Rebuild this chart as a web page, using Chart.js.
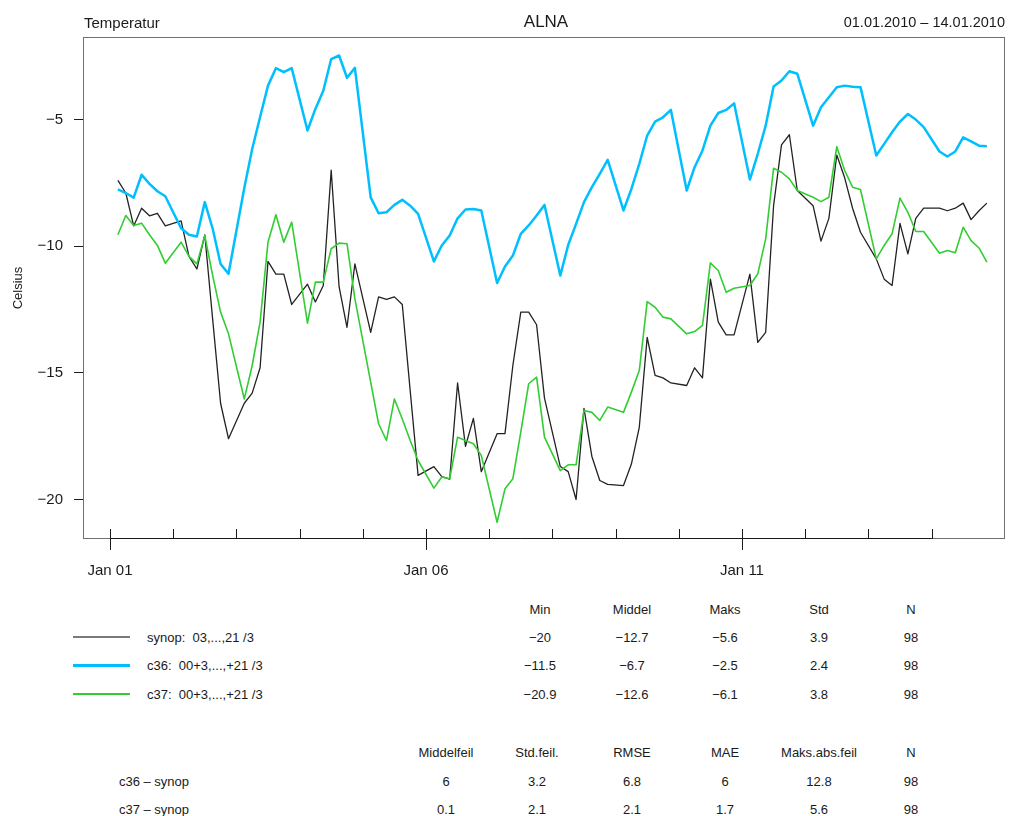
<!DOCTYPE html>
<html>
<head>
<meta charset="utf-8">
<title>ALNA – Temperatur</title>
<script src="https://cdn.jsdelivr.net/npm/chart.js@4.4.1/dist/chart.umd.min.js"></script>
<style>
  html, body { margin: 0; padding: 0; background: #ffffff; }
  #wrap { position: relative; width: 1024px; height: 816px; overflow: hidden;
          font-family: "Liberation Sans", Arial, sans-serif; color: #1a1a1a; }
  #chart { position: absolute; left: 0; top: 0; }
  .lbl { position: absolute; white-space: pre; line-height: 1; }
  .key { position: absolute; }
</style>
</head>
<body>
<div id="wrap">
  <canvas id="chart" width="1024" height="600"></canvas>
</div>
<script>
// Observation hours each day (UTC) and the period covered
const hoursOfDay = [3, 6, 9, 12, 15, 18, 21];
const dayLabels = ['Jan 01', 'Jan 02', 'Jan 03', 'Jan 04', 'Jan 05', 'Jan 06', 'Jan 07',
                   'Jan 08', 'Jan 09', 'Jan 10', 'Jan 11', 'Jan 12', 'Jan 13', 'Jan 14'];
const labelledDays = ['Jan 01', 'Jan 06', 'Jan 11'];
const yTickValues = [-20, -15, -10, -5];

// Observed temperature (synop), °C
const synop = [
  -7.4, -7.9, -9.2, -8.5, -8.8, -8.7, -9.2,
  -9.0, -10.4, -10.9, -9.55, -12.9, -16.2, -17.6,
  -16.2, -15.8, -14.8, -10.6, -11.1, -11.1, -12.3,
  -11.5, -12.2, -11.55, -7.0, -11.6, -13.2, -10.7,
  -13.4, -12.0, -12.1, -12.0, -12.3, -15.7, -19.05,
  -18.7, -19.1, -19.2, -15.4, -17.9, -16.8, -18.9,
  -17.4, -17.4, -14.7, -12.6, -12.6, -13.1, -16.0,
  -18.7, -18.9, -20.0, -16.4, -18.3, -19.25, -19.4,
  -19.45, -18.6, -17.15, -13.6, -15.1, -15.2, -15.4,
  -15.5, -14.8, -15.2, -11.3, -13.0, -13.5, -13.5,
  -11.1, -13.8, -13.4, -8.4, -6.0, -5.6, -7.8,
  -8.4, -9.8, -8.9, -6.4, -7.3, -8.5, -9.45,
  -10.5, -11.3, -11.55, -9.1, -10.3, -8.9, -8.5,
  -8.5, -8.6, -8.5, -8.3, -8.95, -8.6, -8.3
];

// Model c36, 00 UTC run, lead +3 ... +21 h
const c36 = [
  -7.76, -7.9, -8.08, -7.18, -7.54, -7.83, -8.03,
  -9.29, -9.55, -9.62, -8.26, -9.31, -10.7, -11.09,
  -7.7, -6.16, -4.9, -3.66, -2.97, -3.13, -2.97,
  -5.43, -4.58, -3.86, -2.61, -2.47, -3.35, -2.96,
  -8.07, -8.7, -8.66, -8.37, -8.17, -8.4, -8.72,
  -10.6, -9.97, -9.58, -8.9, -8.55, -8.53, -8.59,
  -11.45, -10.8, -10.37, -9.51, -9.18, -8.79, -8.37,
  -11.16, -9.95, -9.12, -8.26, -7.67, -7.14, -6.59,
  -8.59, -7.74, -6.75, -5.63, -5.08, -4.91, -4.62,
  -7.8, -6.88, -6.22, -5.24, -4.74, -4.62, -4.36,
  -7.37, -6.35, -5.24, -3.69, -3.46, -3.09, -3.19,
  -5.24, -4.51, -4.12, -3.72, -3.66, -3.7, -3.72,
  -6.42, -5.96, -5.5, -5.08, -4.78, -5.0, -5.3,
  -6.26, -6.46, -6.26, -5.7, -5.86, -6.03, -6.05
];

// Model c37, 00 UTC run, lead +3 ... +21 h
const c37 = [
  -9.55, -8.79, -9.18, -9.09, -9.55, -9.97, -10.67,
  -9.84, -10.4, -10.7, -9.58, -11.16, -12.6, -13.46,
  -16.03, -14.71, -13.0, -9.84, -8.76, -9.84, -9.05,
  -13.04, -11.42, -11.42, -10.1, -9.88, -9.9, -12.08,
  -15.37, -17.01, -17.67, -16.03, -16.82, -17.67, -18.46,
  -19.55, -19.11, -19.18, -17.54, -17.67, -17.8, -18.26,
  -20.9, -19.58, -19.18, -17.34, -15.43, -15.17, -17.54,
  -18.86, -18.63, -18.63, -16.49, -16.56, -16.88, -16.35,
  -16.56, -15.76, -14.91, -12.19, -12.41, -12.8, -12.87,
  -13.46, -13.37, -13.13, -10.66, -10.96, -11.82, -11.66,
  -11.55, -11.09, -9.71, -6.92, -7.08, -7.34, -7.8,
  -8.07, -8.24, -8.07, -6.07, -7.01, -7.67, -7.76,
  -10.5, -9.97, -9.51, -8.1, -8.66, -9.42, -9.42,
  -10.28, -10.17, -10.26, -9.25, -9.78, -10.07, -10.63
];

// Summary statistics
const seriesNames = ['synop:  03,...,21 /3', 'c36:  00+3,...,+21 /3', 'c37:  00+3,...,+21 /3'];
const statHeader = ['Min', 'Middel', 'Maks', 'Std', 'N'];
const statRows = [
  ['\u221220', '\u221212.7', '\u22125.6', '3.9', '98'],
  ['\u221211.5', '\u22126.7', '\u22122.5', '2.4', '98'],
  ['\u221220.9', '\u221212.6', '\u22126.1', '3.8', '98']
];
const errHeader = ['Middelfeil', 'Std.feil.', 'RMSE', 'MAE', 'Maks.abs.feil', 'N'];
const errNames = ['c36 \u2013 synop', 'c37 \u2013 synop'];
const errRows = [
  ['6', '3.2', '6.8', '6', '12.8', '98'],
  ['0.1', '2.1', '2.1', '1.7', '5.6', '98']
];

// Hours since 01.01.2010 00 UTC for every observation time
const obsTimes = [];
dayLabels.forEach((_, d) => hoursOfDay.forEach(h => obsTimes.push(d * 24 + h)));
const points = vals => vals.map((v, i) => ({ x: obsTimes[i], y: v }));

const FONT = '"Liberation Sans", Arial, sans-serif';
const INK = '#1a1a1a';

// Box around the plot and the R-style day ticks on the time axis
const framePlugin = {
  id: 'frame',
  afterDraw(chart) {
    const { ctx, chartArea: a, scales: { x } } = chart;
    ctx.save();
    ctx.lineWidth = 1;
    ctx.strokeStyle = '#707070';
    ctx.strokeRect(a.left + 0.5, a.top + 0.5, a.right - a.left - 1, a.bottom - a.top - 1);
    ctx.strokeStyle = INK;
    const y0 = a.bottom - 0.5;
    ctx.beginPath();
    ctx.moveTo(x.getPixelForValue(0), y0);
    ctx.lineTo(x.getPixelForValue((dayLabels.length - 1) * 24), y0);
    dayLabels.forEach((lab, d) => {
      const px = Math.round(x.getPixelForValue(d * 24)) + 0.5;
      ctx.moveTo(px, a.bottom - 10);
      ctx.lineTo(px, labelledDays.includes(lab) ? a.bottom + 11 : a.bottom);
    });
    ctx.stroke();
    ctx.restore();
  }
};

new Chart(document.getElementById('chart'), {
  type: 'line',
  data: {
    datasets: [
      { label: 'synop', data: points(synop), borderColor: '#222222', borderWidth: 1.3, order: 3 },
      { label: 'c36', data: points(c36), borderColor: '#00BFFF', borderWidth: 2.5, order: 2 },
      { label: 'c37', data: points(c37), borderColor: '#32CD32', borderWidth: 1.6, order: 1 }
    ]
  },
  options: {
    responsive: false,
    animation: false,
    devicePixelRatio: 1,
    elements: { point: { radius: 0 }, line: { tension: 0, borderJoinStyle: 'round' } },
    layout: { padding: { left: 0, top: 37, right: 19, bottom: 0 } },
    plugins: { legend: { display: false }, tooltip: { enabled: false } },
    scales: {
      x: {
        type: 'linear',
        min: -10.25,
        max: 339.88,
        afterBuildTicks: s => { s.ticks = dayLabels.map((_, d) => ({ value: d * 24 })); },
        afterFit: s => { s.height = 61; },
        grid: { display: false, drawTicks: false },
        border: { display: false },
        ticks: {
          autoSkip: false, maxRotation: 0, padding: 23,
          color: INK, font: { family: FONT, size: 15 },
          callback: v => {
            const lab = dayLabels[Math.round(v / 24)];
            return labelledDays.includes(lab) ? lab : '';
          }
        }
      },
      y: {
        min: -21.56,
        max: -1.74,
        afterBuildTicks: s => { s.ticks = yTickValues.map(v => ({ value: v })); },
        afterFit: s => { s.width = 83; },
        grid: { drawOnChartArea: false, drawTicks: true, tickLength: 9, color: INK, lineWidth: 1 },
        border: { display: false },
        ticks: {
          padding: 11, color: INK, font: { family: FONT, size: 15 },
          callback: v => (v < 0 ? '\u2212' + Math.abs(v) : String(v))
        },
        title: {
          display: true, text: 'Celsius', color: INK,
          font: { family: FONT, size: 13 }, padding: { top: 11, bottom: 0 }
        }
      }
    }
  },
  plugins: [framePlugin]
});

// Header line and the statistics tables under the plot
const wrap = document.getElementById('wrap');
function text(str, x, y, size, align) {
  const el = document.createElement('div');
  el.className = 'lbl';
  el.textContent = str;
  el.style.fontSize = size + 'px';
  el.style.top = y + 'px';
  el.style.left = x + 'px';
  const tx = align === 'left' ? '0' : align === 'right' ? '-100%' : '-50%';
  el.style.transform = 'translate(' + tx + ',-50%)';
  wrap.appendChild(el);
}

text('Temperatur', 84, 22, 15, 'left');
text('ALNA', 546, 21, 17, 'center');
text('01.01.2010 \u2013 14.01.2010', 1005, 22, 14.5, 'right');

const statCols = [540, 632, 725, 819, 911];
const statY = [609, 637, 665, 694];
const keyColors = ['#7a7a7a', '#00BFFF', '#32CD32'];
const keyWidths = [2, 3, 2];
statHeader.forEach((h, j) => text(h, statCols[j], statY[0], 13, 'center'));
seriesNames.forEach((name, i) => {
  const key = document.createElement('div');
  key.className = 'key';
  key.style.left = '73px';
  key.style.width = '57px';
  key.style.height = keyWidths[i] + 'px';
  key.style.top = (statY[i + 1] - keyWidths[i] / 2) + 'px';
  key.style.background = keyColors[i];
  wrap.appendChild(key);
  text(name, 147, statY[i + 1], 13, 'left');
  statRows[i].forEach((v, j) => text(v, statCols[j], statY[i + 1], 13, 'center'));
});

const errCols = [446, 537, 632, 725, 819, 911];
const errY = [752, 781, 809];
errHeader.forEach((h, j) => text(h, errCols[j], errY[0], 13, 'center'));
errNames.forEach((name, i) => {
  text(name, 154, errY[i + 1], 13, 'center');
  errRows[i].forEach((v, j) => text(v, errCols[j], errY[i + 1], 13, 'center'));
});
</script>
</body>
</html>
